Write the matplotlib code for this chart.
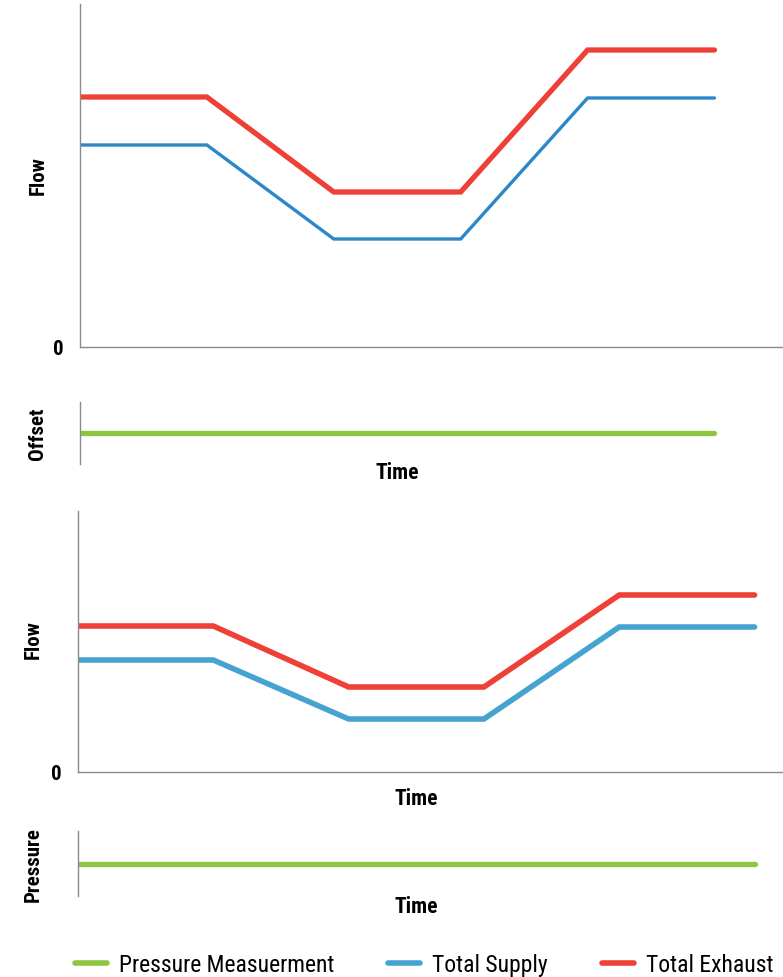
import numpy as np
import matplotlib
matplotlib.use("Agg")
import matplotlib.pyplot as plt
from matplotlib.lines import Line2D
import matplotlib.transforms as mtransforms

plt.rcParams['font.family'] = ['Roboto Condensed', 'DejaVu Sans']

# time steps (arbitrary units)
t = [0, 1, 2, 3, 4, 5]
# top chart: flow (arbitrary units)
exhaust_1 = [250, 250, 155, 155, 297, 297]
supply_1 = [202, 202, 108, 108, 249, 249]
offset_1 = [1, 1, 1, 1, 1, 1]
# lower chart: flow (arbitrary units)
exhaust_2 = [146, 146, 85, 85, 177, 177]
supply_2 = [112, 112, 53, 53, 145, 145]
pressure_2 = [1, 1, 1, 1, 1, 1]

labels = ['Pressure Measuerment', 'Total Supply', 'Total Exhaust']

red = '#ee4036'
blue1 = '#2b88c8'
blue2 = '#46a2d0'
green = '#8dc63f'
spine_c = '#8a8a8a'

W, H = 783, 978
fig = plt.figure(figsize=(W / 100, H / 100), dpi=100)


def px_axes(l, t_, r, b):
    return fig.add_axes([l / W, 1 - b / H, (r - l) / W, (b - t_) / H])


def style(ax, bottom):
    for s in ['top', 'right']:
        ax.spines[s].set_visible(False)
    ax.spines['bottom'].set_visible(bottom)
    for s in ['left', 'bottom']:
        ax.spines[s].set_color(spine_c)
        ax.spines[s].set_linewidth(1.0)
    ax.set_xticks([])
    ax.tick_params(axis='y', length=0, labelsize=15, pad=12)
    for lb in ax.get_yticklabels():
        lb.set_fontweight('bold')


lab_kw = dict(fontsize=15, fontweight='bold', rotation=90, ha='center', va='center')
time_kw = dict(fontsize=15.5, fontweight='bold', ha='center', va='center')

# panel 1
ax1 = px_axes(80, 5, 783, 348)
ax1.plot(t, exhaust_1, color=red, lw=3.8, solid_capstyle='round', solid_joinstyle='miter')
ax1.plot(t, supply_1, color=blue1, lw=2.4, solid_capstyle='round', solid_joinstyle='miter')
ax1.set_xlim(0, 5.54)
ax1.set_ylim(0, 343)
ax1.set_yticks([0])
ax1.set_yticklabels(['0'])
style(ax1, True)
fig.text(38 / W, 1 - 176 / H, 'Flow', **lab_kw)

# panel 2
ax2 = px_axes(80, 403, 783, 465)
ax2.plot(t, offset_1, color=green, lw=3.8, solid_capstyle='round')
ax2.set_xlim(0, 5.54)
ax2.set_ylim(0, 2)
ax2.set_yticks([])
style(ax2, False)
fig.text(38 / W, 1 - 434 / H, 'Offset', **lab_kw)
tr2 = mtransforms.blended_transform_factory(ax2.transData, fig.transFigure)
ax2.text(2.5, 1 - 473 / H, 'Time', transform=tr2, **time_kw)

# panel 3
ax3 = px_axes(78, 512, 783, 773)
ax3.plot(t, exhaust_2, color=red, lw=4.0, solid_capstyle='round', solid_joinstyle='miter')
ax3.plot(t, supply_2, color=blue2, lw=4.0, solid_capstyle='round', solid_joinstyle='miter')
ax3.set_xlim(0, 5.21)
ax3.set_ylim(0, 261)
ax3.set_yticks([0])
ax3.set_yticklabels(['0'])
style(ax3, True)
fig.text(33 / W, 1 - 640 / H, 'Flow', **lab_kw)
tr3 = mtransforms.blended_transform_factory(ax3.transData, fig.transFigure)
ax3.text(2.5, 1 - 799 / H, 'Time', transform=tr3, **time_kw)

# panel 4
ax4 = px_axes(78, 832, 783, 897)
ax4.plot(t, pressure_2, color=green, lw=3.8, solid_capstyle='round')
ax4.set_xlim(0, 5.21)
ax4.set_ylim(0, 2.03)
ax4.set_yticks([])
style(ax4, False)
fig.text(33 / W, 1 - 865 / H, 'Pressure', **lab_kw)
tr4 = mtransforms.blended_transform_factory(ax4.transData, fig.transFigure)
ax4.text(2.5, 1 - 907 / H, 'Time', transform=tr4, **time_kw)

handles = [Line2D([0], [0], color=c, lw=4, solid_capstyle='round') for c in [green, blue2, red]]
fig.legend(handles, labels, loc='center', bbox_to_anchor=(424 / W, 1 - 966 / H), ncol=3,
           frameon=False, fontsize=17, handlelength=1.35, handletextpad=0.5,
           columnspacing=2.3, borderpad=0, borderaxespad=0)

fig.savefig('out.png', dpi=100)
